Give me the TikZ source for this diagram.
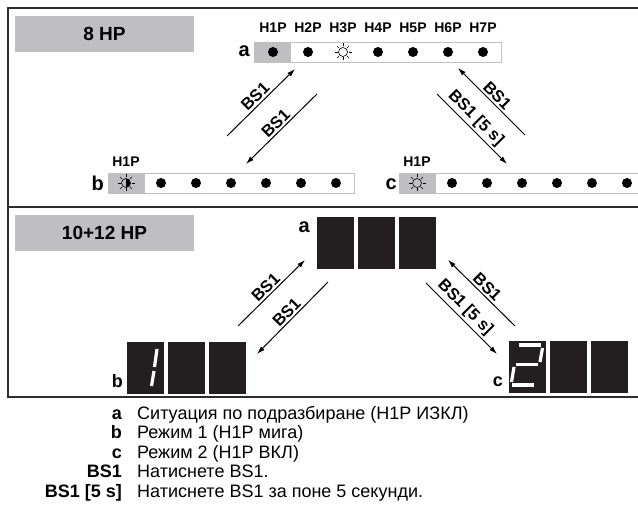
\documentclass[tikz,border=0pt]{standalone}
\usepackage{fontspec}
\setmainfont{Liberation Sans}
\usetikzlibrary{arrows.meta}

\definecolor{panelGray}{RGB}{191, 191, 193}
\definecolor{frameGray}{RGB}{45, 45, 45}
\definecolor{cellBlack}{RGB}{35, 31, 32}

\begin{document}
\begin{tikzpicture}[
    x=1pt, y=-1pt,
    frame/.style={frameGray, line width=1.1pt},
    titlebox/.style={fill=panelGray, minimum width=179pt, minimum height=36pt,
      inner sep=0pt, font=\fontsize{19}{22}\selectfont\bfseries},
    stripbox/.style={draw=panelGray, line width=1.4pt, fill=white, anchor=north west,
      minimum height=20pt, inner sep=0pt},
    stripcell/.style={fill=panelGray, anchor=north west, minimum width=37pt,
      minimum height=20pt, inner sep=0pt},
    ledlabel/.style={font=\fontsize{14}{16}\selectfont\bfseries, anchor=base, inner sep=0pt},
    keylabel/.style={font=\fontsize{20}{22}\selectfont\bfseries, anchor=base east, inner sep=0pt},
    dot/.style={circle, fill=black, inner sep=0pt, minimum size=10pt},
    cell/.style={fill=cellBlack, anchor=north west, minimum width=37pt,
      minimum height=52pt, inner sep=0pt},
    seg/.style={white, line width=3.2pt},
    arr/.style={-{Latex[length=8pt, width=5pt]}, line width=1pt},
    bslabel/.style={font=\fontsize{16.5}{18}\selectfont\bfseries, sloped, above, inner sep=2pt},
    legkey/.style={font=\fontsize{18}{20}\selectfont\bfseries, anchor=base east, inner sep=0pt},
    legtext/.style={font=\fontsize{18}{20}\selectfont, anchor=base west, inner sep=0pt},
    sun/.pic={
      \draw[line width=0.6pt] (0,0) circle (4.5);
      \foreach \ang in {0,45,...,315} \draw[line width=0.6pt] (\ang:5.5) -- (\ang:8.5);
    },
    blink/.pic={
      \fill (90:4.5) arc[start angle=90, end angle=-90, radius=4.5] -- cycle;
      \draw[line width=0.6pt] (0,0) circle (4.5);
      \foreach \ang in {0,45,...,315} \draw[line width=0.6pt] (\ang:5.5) -- (\ang:8.5);
    },
  ]
  \useasboundingbox (0,0) rectangle (638,510);

  % Frame
  \draw[frame] (638,8) -- (8,8) -- (8,397) -- (638,397);
  \draw[frame] (8,207) -- (638,207);

  % ---------------- 8 HP ----------------
  \node[titlebox] (hp8) at (104.5,34) {8 HP};

  % strip a
  \node[stripbox, minimum width=247pt] (stripA) at (254,42) {};
  \node[stripcell] (cellA) at (254,42) {};
  \node[keylabel] (keyA) at (250,57) {a};
  \foreach \i in {1,...,7} {
    \node[ledlabel] (ledA\i) at ({273+35*(\i-1)},33) {H\i P};
  }
  \foreach \i in {1,2,4,5,6,7} {
    \node[dot] (dotA\i) at ({273+35*(\i-1)},52) {};
  }
  \pic at (343,52) {sun};

  % strip b
  \node[stripbox, minimum width=246pt] (stripB) at (108,173) {};
  \node[stripcell] (cellB) at (108,173) {};
  \node[keylabel] (keyB) at (104,191) {b};
  \node[ledlabel] (ledB1) at (126,167) {H1P};
  \pic at (126,183) {blink};
  \foreach \i in {1,...,6} {
    \node[dot] (dotB\i) at ({126+35*\i},183) {};
  }

  % strip c
  \node[stripbox, minimum width=250pt] (stripC) at (399,173) {};
  \node[stripcell] (cellC) at (399,173) {};
  \node[keylabel] (keyC) at (397,190) {c};
  \node[ledlabel] (ledC1) at (417,167) {H1P};
  \pic at (417,183) {sun};
  \foreach \i in {1,...,6} {
    \node[dot] (dotC\i) at ({417+35*\i},183) {};
  }

  % BS1 arrows
  \coordinate (ab1s) at (227,136); \coordinate (ab1e) at (295,69);
  \coordinate (ba1s) at (317,94);  \coordinate (ba1e) at (246,164);
  \coordinate (ca1s) at (525,135); \coordinate (ca1e) at (458,68);
  \coordinate (ac1s) at (437,94);  \coordinate (ac1e) at (507,164);
  \draw[arr] (ab1s) -- (ab1e) node[bslabel, midway] {BS1};
  \draw[arr] (ba1s) -- (ba1e) node[bslabel, midway] {BS1};
  \draw[arr] (ca1s) -- (ca1e) node[bslabel, midway] {BS1};
  \draw[arr] (ac1s) -- (ac1e) node[bslabel, pos=0.45] {BS1 [5 s]};

  % ---------------- 10+12 HP ----------------
  \node[titlebox] (hp10) at (104.5,233) {10+12 HP};

  \foreach \i in {0,1,2} {
    \node[cell] (dispA\i) at ({317+41*\i},217) {};
    \node[cell] (dispB\i) at ({127+41*\i},342) {};
    \node[cell] (dispC\i) at ({509+41*\i},341) {};
  }
  \node[keylabel] (keyA2) at (310,233) {a};
  \node[keylabel, font=\fontsize{18}{20}\selectfont\bfseries] (keyB2) at (123,388) {b};
  \node[keylabel, font=\fontsize{18}{20}\selectfont\bfseries] (keyC2) at (503,387) {c};

  % digit 1
  \draw[seg] (157,349) -- (154.5,367);
  \draw[seg] (154,371) -- (151.5,386);
  % digit 2
  \draw[seg] (519,345) -- (541,345);
  \draw[seg] (542.5,348) -- (540,362);
  \draw[seg] (516,364.5) -- (538,364.5);
  \draw[seg] (514,367) -- (511.5,382);
  \draw[seg] (512,385) -- (534,385);

  % BS1 arrows
  \coordinate (ab2s) at (238,326); \coordinate (ab2e) at (305,260);
  \coordinate (ba2s) at (328,282); \coordinate (ba2e) at (257,354);
  \coordinate (ca2s) at (515,326); \coordinate (ca2e) at (448,260);
  \coordinate (ac2s) at (426,283); \coordinate (ac2e) at (497,354);
  \draw[arr] (ab2s) -- (ab2e) node[bslabel, midway] {BS1};
  \draw[arr] (ba2s) -- (ba2e) node[bslabel, midway] {BS1};
  \draw[arr] (ca2s) -- (ca2e) node[bslabel, midway] {BS1};
  \draw[arr] (ac2s) -- (ac2e) node[bslabel, pos=0.45] {BS1 [5 s]};

  % Legend
  \node[legkey] (legA) at (122,419.5) {a};
  \node[legtext] (legAt) at (137,419.5) {Ситуация по подразбиране (H1P ИЗКЛ)};
  \node[legkey] (legB) at (122,439) {b};
  \node[legtext] (legBt) at (137,439) {Режим 1 (H1P мига)};
  \node[legkey] (legC) at (122,458.5) {c};
  \node[legtext] (legCt) at (137,458.5) {Режим 2 (H1P ВКЛ)};
  \node[legkey] (legS) at (122,478) {BS1};
  \node[legtext] (legSt) at (137,478) {Натиснете BS1.};
  \node[legkey] (legL) at (122,497.5) {BS1 [5 s]};
  \node[legtext] (legLt) at (137,497.5) {Натиснете BS1 за поне 5 секунди.};
\end{tikzpicture}
\end{document}
